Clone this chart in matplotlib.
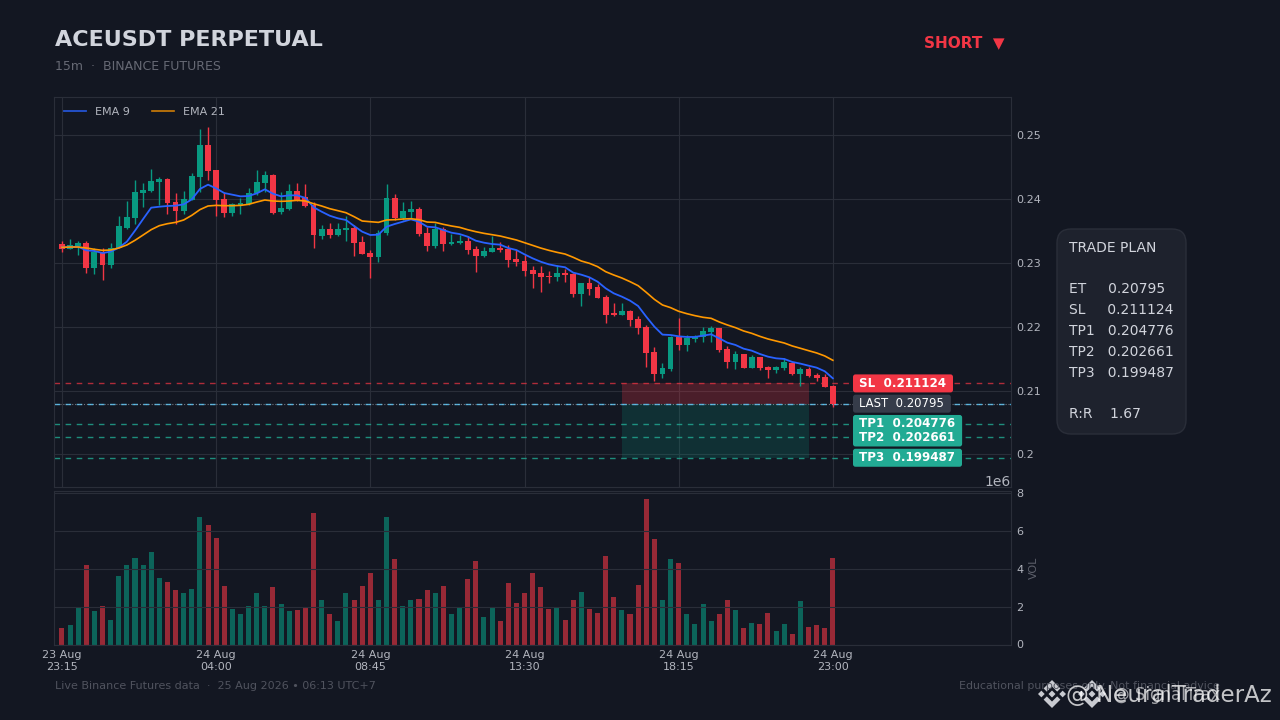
#!/usr/bin/env python
# -*- coding: utf-8 -*-
import numpy as np
import matplotlib
matplotlib.use('Agg')
import matplotlib.pyplot as plt
from matplotlib.patches import FancyBboxPatch, Polygon

BG = '#131722'
GRID = '#2a2e39'
TICK = '#b2b5be'
UP = '#089981'
DOWN = '#f23645'
TP_BOX = '#22ab94'

opens = [
    .23294, .23216, .23258, .23310, .22924, .23174, .22966, .23226, .23539, .23701, .24092, .24124,
    .24264, .24311, .23951, .23811, .23983, .24343, .24844, .24452, .23998, .23779, .23905, .23920,
    .24092, .24249, .24374, .23795, .23842, .24124, .24030, .23905, .23419, .23529, .23435, .23513,
    .23544, .23325, .23153, .23090, .23466, .24014, .23701, .23795, .23842, .23466, .23263, .23529,
    .23294, .23310, .23341, .23216, .23106, .23169, .23231, .23216, .23059, .23028, .22887, .22840,
    .22793, .22777, .22841, .22825, .22512, .22684, .22621, .22465, .22215, .22183, .22246, .22121,
    .21995, .21604, .21260, .21338, .21839, .21714, .21808, .21839, .21917, .21980, .21651, .21448,
    .21573, .21354, .21526, .21369, .21323, .21354, .21432, .21260, .21338, .21244, .21213, .21072,
]
highs = [
    .23346, .23367, .23341, .23341, .23226, .23226, .23305, .23738, .23967, .24291, .24254, .24463,
    .24348, .24322, .24087, .24129, .24411, .25089, .25120, .24452, .24087, .23941, .24009, .24165,
    .24447, .24431, .24385, .24103, .24228, .24254, .24228, .23957, .23591, .23617, .23617, .23737,
    .23591, .23419, .23200, .23513, .24228, .24071, .23956, .23972, .23878, .23555, .23617, .23555,
    .23450, .23435, .23424, .23263, .23252, .23419, .23330, .23278, .23200, .23122, .22955, .22955,
    .22877, .22965, .22898, .22835, .22689, .22783, .22668, .22501, .22366, .22366, .22262, .22168,
    .22027, .21677, .21437, .21855, .22131, .21876, .21876, .21990, .22011, .21980, .21698, .21625,
    .21573, .21557, .21531, .21385, .21385, .21505, .21453, .21364, .21364, .21270, .21260, .21088,
]
lows = [
    .23164, .23216, .23122, .22835, .22820, .22726, .22924, .23226, .23529, .23602, .23868, .24103,
    .23905, .23769, .23607, .23769, .23983, .24108, .24296, .23727, .23722, .23738, .23758, .23905,
    .24061, .24113, .23769, .23769, .23826, .23967, .23878, .23226, .23367, .23393, .23424, .23341,
    .23111, .23132, .22757, .23007, .23435, .23670, .23670, .23701, .23424, .23190, .23237, .23190,
    .23273, .23294, .23132, .22861, .23085, .23164, .23164, .22939, .22955, .22798, .22611, .22538,
    .22678, .22715, .22705, .22460, .22329, .22501, .22444, .22053, .22168, .22183, .22016, .21881,
    .21375, .21156, .21203, .21302, .21636, .21625, .21766, .21766, .21766, .21609, .21349, .21333,
    .21349, .21354, .21323, .21203, .21270, .21323, .21244, .21077, .21218, .21156, .21051, .20738,
]
closes = [
    .23221, .23279, .23310, .22924, .23174, .22966, .23226, .23576, .23717, .24108, .24139, .24280,
    .24311, .23936, .23811, .23998, .24358, .24844, .24437, .23983, .23779, .23920, .23936, .24092,
    .24264, .24374, .23779, .23858, .24124, .23967, .23889, .23435, .23529, .23435, .23529, .23544,
    .23310, .23137, .23090, .23466, .24014, .23701, .23810, .23842, .23450, .23263, .23529, .23294,
    .23325, .23341, .23200, .23106, .23184, .23231, .23200, .23044, .23012, .22871, .22824, .22777,
    .22777, .22840, .22809, .22512, .22684, .22590, .22449, .22183, .22183, .22246, .22105, .21980,
    .21589, .21260, .21354, .21839, .21714, .21823, .21839, .21933, .21980, .21636, .21448, .21573,
    .21354, .21526, .21354, .21323, .21369, .21448, .21260, .21338, .21229, .21192, .21057, .20795,
]
ema9 = [
    .23242, .23247, .23252, .23195, .23185, .23153, .23174, .23237, .23331, .23503, .23685, .23863,
    .23878, .23889, .23894, .23915, .23993, .24155, .24223, .24165, .24092, .24066, .24040, .24045,
    .24087, .24150, .24082, .24040, .24056, .24056, .24015, .23870, .23800, .23737, .23696, .23670,
    .23576, .23487, .23435, .23440, .23565, .23607, .23643, .23680, .23643, .23565, .23555, .23513,
    .23471, .23450, .23409, .23346, .23315, .23294, .23284, .23231, .23200, .23132, .23070, .23017,
    .22976, .22950, .22930, .22846, .22814, .22773, .22705, .22601, .22522, .22470, .22408, .22324,
    .22157, .22001, .21876, .21870, .21849, .21839, .21839, .21860, .21881, .21818, .21750, .21714,
    .21656, .21625, .21573, .21531, .21505, .21495, .21448, .21422, .21390, .21359, .21302, .21192,
]
ema21 = [
    .23242, .23247, .23247, .23232, .23211, .23195, .23200, .23232, .23279, .23352, .23435, .23519,
    .23581, .23612, .23633, .23670, .23743, .23832, .23889, .23899, .23894, .23894, .23899, .23915,
    .23951, .23983, .23967, .23962, .23967, .23978, .23967, .23925, .23889, .23847, .23816, .23784,
    .23722, .23654, .23643, .23633, .23670, .23675, .23685, .23690, .23675, .23638, .23633, .23602,
    .23576, .23555, .23518, .23487, .23461, .23440, .23419, .23388, .23357, .23315, .23273, .23231,
    .23195, .23164, .23137, .23086, .23028, .22992, .22940, .22861, .22809, .22762, .22705, .22642,
    .22538, .22428, .22340, .22298, .22241, .22204, .22173, .22147, .22131, .22074, .22027, .21985,
    .21933, .21896, .21849, .21808, .21776, .21745, .21698, .21662, .21625, .21589, .21542, .21474,
]
volumes_m = [
    0.88, 1.04, 2.01, 4.23, 1.75, 2.06, 1.32, 3.60, 4.23, 4.60, 4.23, 4.92,
    3.54, 3.33, 2.91, 2.70, 2.96, 6.77, 6.30, 5.61, 3.07, 1.90, 1.64, 2.06,
    2.75, 2.06, 3.02, 2.12, 1.75, 1.80, 1.94, 6.98, 2.38, 1.64, 1.22, 2.75,
    2.38, 3.12, 3.76, 2.38, 6.77, 4.55, 2.06, 2.38, 2.43, 2.91, 2.75, 3.12,
    1.64, 2.01, 3.44, 4.44, 1.48, 2.01, 1.27, 3.28, 2.17, 2.70, 3.81, 3.02,
    1.90, 2.01, 1.32, 2.33, 2.80, 1.90, 1.69, 4.71, 2.49, 1.80, 1.64, 3.17,
    7.72, 5.56, 2.33, 4.50, 4.29, 1.59, 1.06, 2.12, 1.27, 1.59, 2.38, 1.85,
    0.85, 1.16, 1.11, 1.69, 0.69, 1.06, 0.58, 2.28, 0.90, 1.01, 0.85, 4.60,
]
tick_pos = [0, 19, 38, 57, 76, 95]
tick_labels = ['23 Aug\n23:15', '24 Aug\n04:00', '24 Aug\n08:45',
               '24 Aug\n13:30', '24 Aug\n18:15', '24 Aug\n23:00']
price_ticks = [0.20, 0.21, 0.22, 0.23, 0.24, 0.25]
vol_ticks = [0, 2e6, 4e6, 6e6, 8e6]

entry = 0.20795
stop = 0.211124
tp1 = 0.204776
tp2 = 0.202661
tp3 = 0.199487

plan_text = ('TRADE PLAN\n\nET     0.20795\nSL     0.211124\nTP1   0.204776\n'
             'TP2   0.202661\nTP3   0.199487\n\nR:R    1.67')


def fig_rect(left, top, right, bottom):
    return [left / 1280, 1 - bottom / 720, (right - left) / 1280, (bottom - top) / 720]


def draw_logo(overlay, cx, cy, r, color):
    # centre diamond, side diamonds and two chevrons
    def pts(coords):
        return [(cx + x * r, cy - y * r) for x, y in coords]
    overlay.add_patch(Polygon(pts([(0, .25), (.25, 0), (0, -.25), (-.25, 0)]), color=color, lw=0))
    for s in [1, -1]:
        overlay.add_patch(Polygon(pts([(s * .76, .24), (s, 0), (s * .76, -.24), (s * .52, 0)]), color=color, lw=0))
        overlay.add_patch(Polygon(pts([(0, s), (.6, s * .4), (.37, s * .17), (0, s * .54),
                                       (-.37, s * .17), (-.6, s * .4)]), color=color, lw=0))


def draw_tag(overlay, renderer, ax, level, text, box, **text_kw):
    # coloured tag next to the axis, centred on the price level
    y = 720 - ax.transData.transform((0, level))[1]
    label = overlay.text(859, y, text, color='white', va='center', ha='left', zorder=8, **text_kw)
    right = label.get_window_extent(renderer).x1 + 7
    overlay.add_patch(FancyBboxPatch((853, y - 9), right - 853, 18, boxstyle='round,pad=0,rounding_size=2.5',
                                     facecolor=box, edgecolor='none', zorder=7))


opens = np.array(opens)
highs = np.array(highs)
lows = np.array(lows)
closes = np.array(closes)
volumes = np.array(volumes_m) * 1e6
xs = np.arange(len(closes))
rising = closes >= opens

plt.rcParams['font.family'] = 'DejaVu Sans'
fig = plt.figure(figsize=(12.8, 7.2), dpi=100, facecolor=BG)
ax = fig.add_axes(fig_rect(54, 97, 1011, 487), facecolor=BG)
ax_vol = fig.add_axes(fig_rect(54, 490.5, 1011, 644.5), facecolor=BG, sharex=ax)

# pixel overlay for the card, tags and logos
overlay = fig.add_axes([0, 0, 1, 1], zorder=5)
overlay.set_xlim(0, 1280)
overlay.set_ylim(720, 0)
overlay.axis('off')

# candles
colors = [UP if r else DOWN for r in rising]
ax.vlines(xs, lows, highs, colors=colors, linewidth=1.0, zorder=3)
ax.bar(xs, np.maximum(np.abs(closes - opens), 0.00004), bottom=np.minimum(opens, closes),
       width=0.72, color=colors, linewidth=0, zorder=4)

line9, = ax.plot(xs, ema9, color='#2962ff', linewidth=1.3, label='EMA 9', zorder=5)
line21, = ax.plot(xs, ema21, color='#ff9800', linewidth=1.2, label='EMA 21', zorder=5)

# risk and reward zones
ax.fill_between([69, 92], entry, stop, color=DOWN, alpha=0.25, linewidth=0, zorder=2)
ax.fill_between([69, 92], tp3, entry, color=UP, alpha=0.2, linewidth=0, zorder=2)

# level lines
ax.axhline(stop, color=DOWN, linewidth=1, linestyle=(0, (4, 4)), alpha=0.7, zorder=2)
ax.axhline(entry, color='#4fc3f7', linewidth=1, linestyle=(0, (4, 4)), alpha=0.9, zorder=2)
ax.axhline(closes[-1], color='#b2b5be', linewidth=0.8, linestyle=':', alpha=0.6, zorder=2)
for level in [tp1, tp2, tp3]:
    ax.axhline(level, color=TP_BOX, linewidth=1, linestyle=(0, (4, 4)), alpha=0.8, zorder=2)

ax.set_xlim(-0.98, 116.95)
ax.set_ylim(0.19491, 0.25595)
ax.set_yticks(price_ticks)
ax.set_yticklabels(['0.2', '0.21', '0.22', '0.23', '0.24', '0.25'])
ax.set_xticks(tick_pos)
ax.grid(True, color=GRID, linewidth=0.8)
ax.set_axisbelow(True)
ax.yaxis.tick_right()
ax.tick_params(axis='y', colors=TICK, labelsize=8, length=0, pad=4)
ax.tick_params(axis='x', length=0, labelbottom=False)
for spine in ax.spines.values():
    spine.set_color(GRID)

leg = ax.legend(handles=[line9, line21], loc='upper left', ncol=2, frameon=False, fontsize=8,
                labelcolor=TICK, borderaxespad=0.5, columnspacing=2.0, handlelength=2.0)
for handle in leg.get_lines():
    handle.set_alpha(0.8)

# price tags
renderer = fig.canvas.get_renderer()
for level, text, box in [(stop, 'SL  0.211124', DOWN),
                         (tp1, 'TP1  0.204776', TP_BOX),
                         (tp2, 'TP2  0.202661', TP_BOX),
                         (tp3, 'TP3  0.199487', TP_BOX)]:
    draw_tag(overlay, renderer, ax, level, text, box, fontsize=8.6, fontweight='bold')
draw_tag(overlay, renderer, ax, closes[-1], 'LAST  0.20795', '#363c4a', fontsize=8.4)

# volume
ax_vol.bar(xs, volumes, width=0.62, color=colors, alpha=0.6, linewidth=0)
ax_vol.set_ylim(0, 8.15e6)
ax_vol.set_yticks(vol_ticks)
ax_vol.set_xticks(tick_pos)
ax_vol.set_xticklabels(tick_labels)
ax_vol.grid(True, axis='y', color=GRID, linewidth=0.8)
ax_vol.yaxis.tick_right()
ax_vol.yaxis.set_label_position('right')
ax_vol.set_ylabel('VOL', color='#5d606b', fontsize=8, labelpad=3.5)
ax_vol.tick_params(axis='y', colors=TICK, labelsize=8, length=0, pad=4)
ax_vol.tick_params(axis='x', colors=TICK, labelsize=8, length=0, pad=4)
for spine in ax_vol.spines.values():
    spine.set_color(GRID)

# header
fig.text(55 / 1280, 1 - 40 / 720, 'ACEUSDT PERPETUAL', color='#d1d4dc', fontsize=16, fontweight='bold',
         ha='left', va='center')
fig.text(55 / 1280, 1 - 66 / 720, '15m  ·  BINANCE FUTURES', color='#666974', fontsize=9,
         ha='left', va='center')
fig.text(1005 / 1280, 1 - 43 / 720, 'SHORT  ▼', color=DOWN, fontsize=11, fontweight='bold',
         ha='right', va='center')

# trade plan card
overlay.add_patch(FancyBboxPatch((1057, 229), 129, 205, boxstyle='round,pad=0,rounding_size=14',
                                 facecolor='#1e222d', edgecolor=GRID, linewidth=1))
overlay.text(1069, 331, plan_text, color='#d1d4dc', fontsize=10, ha='left', va='center',
             linespacing=1.62)

# footer
overlay.text(55, 686, 'Live Binance Futures data  ·  25 Aug 2026 • 06:13 UTC+7',
             color='#50535e', fontsize=8, ha='left', va='center')
overlay.text(1220, 686, 'Educational purposes only. Not financial advice',
             color='#50535e', fontsize=7.9, ha='right', va='center')

# watermarks
draw_logo(overlay, 1052, 694, 14, '#c8cad0')
draw_logo(overlay, 1092, 694, 14, '#c8cad0')
overlay.text(1272, 695, '@ NeuralTraderAz', color='white', alpha=0.75, fontsize=16.5, ha='right', va='center')
overlay.text(1113, 695, '@ SignalTrax', color='white', alpha=0.6, fontsize=12, ha='left', va='center')

fig.savefig('out.png', dpi=100, facecolor=BG)
